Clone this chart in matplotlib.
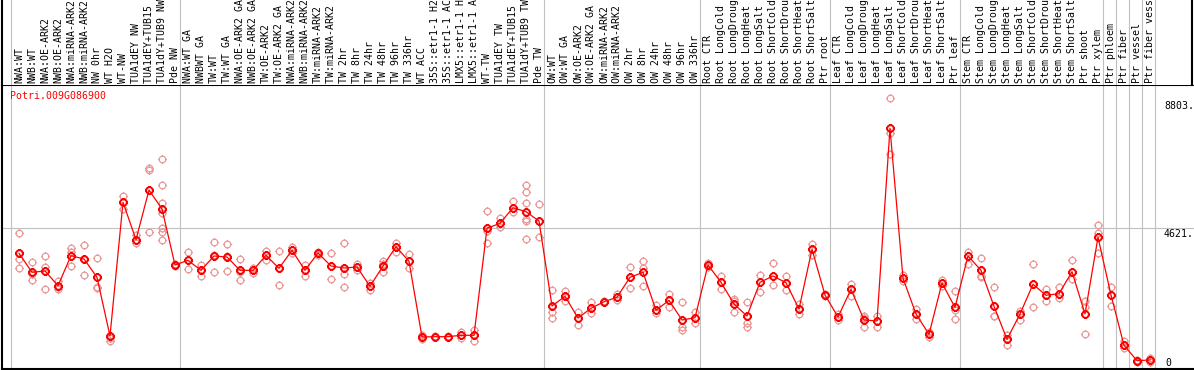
import numpy as np
import matplotlib
matplotlib.use("Agg")
import matplotlib.pyplot as plt
from matplotlib.path import Path

gene = "Potri.009G086900"

labels = [
    "NWA:WT", "NWB:WT", "NWA:OE-ARK2", "NWB:OE-ARK2", "NWA:miRNA-ARK2", "NWB:miRNA-ARK2",
    "NW 0hr", "WT H2O", "WT-NW", "TUA1dEY NW", "TUA1dEY+TUB15 NW", "TUA1dY+TUB9 NW", "Pde NW",
    "NWA:WT GA", "NWBWT GA", "TW:WT", "TW:WT GA", "NWA:OE-ARK2 GA", "NWB:OE-ARK2 GA",
    "TW:OE-ARK2", "TW:OE-ARK2 GA", "NWA:miRNA-ARK2 GA", "NWB:miRNA-ARK2 GA", "TW:miRNA-ARK2",
    "TW:miRNA-ARK2 GA", "TW 2hr", "TW 8hr", "TW 24hr", "TW 48hr", "TW 96hr", "TW 336hr",
    "WT ACC", "35S::etr1-1 H2O", "35S::etr1-1 ACC", "LMX5::etr1-1 H2O", "LMX5::etr1-1 ACC",
    "WT-TW", "TUA1dEY TW", "TUA1dEY+TUB15 TW", "TUA1dY+TUB9 TW", "Pde TW",
    "OW:WT", "OW:WT GA", "OW:OE-ARK2", "OW:OE-ARK2 GA", "OW:miRNA-ARK2", "OW:miRNA-ARK2 GA",
    "OW 2hr", "OW 8hr", "OW 24hr", "OW 48hr", "OW 96hr", "OW 336hr",
    "Root CTR", "Root LongCold", "Root LongDrought", "Root LongHeat", "Root LongSalt",
    "Root ShortCold", "Root ShortDrought", "Root ShortHeat", "Root ShortSalt", "Ptr root",
    "Leaf CTR", "Leaf LongCold", "Leaf LongDrought", "Leaf LongHeat", "Leaf LongSalt",
    "Leaf ShortCold", "Leaf ShortDrought", "Leaf ShortHeat", "Leaf ShortSalt", "Ptr leaf",
    "Stem CTR", "Stem LongCold", "Stem LongDrought", "Stem LongHeat", "Stem LongSalt",
    "Stem ShortCold", "Stem ShortDrought", "Stem ShortHeat", "Stem ShortSalt", "Ptr shoot",
    "Ptr xylem", "Ptr phloem", "Ptr fiber", "Ptr vessel", "Ptr fiber vessel",
]

group_sizes = [13, 28, 12, 10, 10, 11, 1, 1, 1, 1]

means = [
    3743, 3092, 3137, 2633, 3662, 3548, 2920, 908, 5491, 4210, 5913, 5262, 3342,
    3503, 3160, 3651, 3617, 3160, 3160, 3675, 3229, 3846, 3160, 3754, 3308, 3239, 3274,
    2612, 3308, 3970, 3469, 874, 885, 885, 932, 932, 4600, 4771, 5307, 5170, 4851,
    1937, 2269, 1525, 1858, 2084, 2235, 2920, 3092, 1789, 2132, 1457, 1536,
    3342, 2749, 2005, 1594, 2749, 2965, 2736, 1834, 3880, 2314,
    1560, 2509, 1457, 1423, 8028, 2886, 1663, 966, 2725, 1892,
    3651, 3160, 1927, 795, 1663, 2681, 2304, 2359, 3113, 1663, 4292,
    2314, 590, 62, 86,
]

reps = [
    [4429, 3538, 3229], [3435, 3050, 2818], [3651, 3284, 2509], [2804, 2600, 2509],
    [3935, 3798, 3308], [4028, 3560, 2989], [3582, 2578, 2544], [908, 840, 747],
    [5708, 5500, 5262], [4360, 4200, 4086], [6657, 6599, 4463],
    [6976, 6074, 5478, 5115, 4611, 4484, 4199], [3380, 3300],
    [3778, 3195], [3353, 2976], [4120, 3700, 3102], [4052, 3650, 3137], [3548, 3100, 2818],
    [3250, 3078], [3812, 3503], [3812, 2646], [3970, 3743], [3353, 2976], [3800, 3700],
    [3754, 2852], [4096, 3044, 2588], [3380, 3171], [2736, 2485], [3469, 3360, 3092],
    [4107, 3798], [3719, 3239], [950, 795], [900, 870], [900, 870], [1030, 830],
    [1114, 935, 747], [5183, 4500, 4107], [4953, 4635], [5536, 5149],
    [6085, 5855, 5478, 4909, 4851, 4223], [5423, 4302],
    [2475, 1741, 1536], [2451, 2118], [1741, 1275], [2074, 1697], [2108, 2060],
    [2359, 2132], [3274, 2544], [3469, 3229, 2622], [1971, 1687], [2338, 1892],
    [2074, 1227, 1114], [1741, 1344],
    [3400, 3290], [2976, 2530], [2167, 2100, 1741], [2064, 1364, 1227], [2989, 2417],
    [3411, 2657], [2976, 2485], [2005, 1663], [4062, 3880, 3700], [2348, 2280],
    [1660, 1457], [2691, 2280], [1604, 1540, 1227], [1604, 1227], [9057, 7857, 7137],
    [2999, 2804], [1820, 1501], [1035, 884], [2828, 2620], [2441, 1789, 1481],
    [3798, 3377], [3572, 2970, 2941], [2578, 1610, 1594], [943, 600], [1765, 1457],
    [3366, 1892], [2520, 2118], [2588, 2221], [3503, 2862], [2118, 1904, 967],
    [4714, 4450, 3743],
    [2588, 1937], [747, 487], [100, 20], [140, 30],
]

ytick_vals = [0, 4621, 8803]
ytick_text = ["0", "4621.", "8803."]

# circle marker with little ticks, like the original renderer
t = np.linspace(0, 2 * np.pi, 33)
verts = list(zip(np.cos(t), np.sin(t)))
codes = [Path.MOVETO] + [Path.LINETO] * (len(verts) - 1)
for dx, dy in [(1, 0), (-1, 0), (0, 1), (0, -1)]:
    verts += [(dx, dy), (dx * 1.3, dy * 1.3)]
    codes += [Path.MOVETO, Path.LINETO]
tick_circle = Path(verts, codes)

plt.rcParams['font.family'] = ['DejaVu Sans Mono']
W, H = 1194, 370
fig = plt.figure(figsize=(W / 100, H / 100), dpi=100)

x = np.arange(len(labels))
xlim = ((1.5 - 19) / 13, (W - 19) / 13)
ylim = (-6 * 34.28, 277.5 * 34.28)

ax = fig.add_axes([1.5 / W, 1.5 / H, 1 - 1.5 / W, 283.5 / H])
axh = fig.add_axes([1.5 / W, 285 / H, 1 - 1.5 / W, 85 / H])

for a in (ax, axh):
    a.set_xlim(*xlim)
    a.set_xticks([])
    a.set_yticks([])
    for s in a.spines.values():
        s.set_linewidth(1.5)
        s.set_color('black')
ax.set_ylim(*ylim)
ax.spines['right'].set_visible(False)
axh.spines['right'].set_visible(False)
axh.spines['top'].set_visible(False)
axh.spines['bottom'].set_visible(False)
axh.set_ylim(0, 1)

# group separators
bounds = np.concatenate([[0], np.cumsum(group_sizes)])
for b in bounds:
    for a in (ax, axh):
        a.axvline(b - 8 / 13, color='#c0c0c0', lw=0.8, zorder=0)
axh.axvline((1192 - 19) / 13, color='black', lw=1.5)
ax.axhline(ytick_vals[1], color='#c0c0c0', lw=0.8, zorder=0)

# replicates
for i, r in enumerate(reps):
    ax.plot([i] * len(r), r, ls='none', marker=tick_circle, ms=6.2,
            mfc='none', mec='#eb9a9a', mew=0.9, zorder=2)

# means
ax.plot(x, means, color='red', lw=0.9, marker=tick_circle, ms=6.2,
        mfc='none', mec='red', mew=1.4, zorder=3)

for lab, i in zip(labels, x):
    axh.text(i, 2 / 85, lab, rotation=90, ha='center', va='bottom',
             fontsize=7.1, color='black', transform=axh.get_xaxis_transform())

ax.text((10 - 1.5) / (W - 1.5), 1 - 6 / 283.5, gene, color='red', fontsize=7.1,
        ha='left', va='top', transform=ax.transAxes)

xr = (1164 - 19) / 13
ax.text(xr, ytick_vals[2], ytick_text[2], fontsize=7.1, ha='left', va='center')
ax.text(xr, ytick_vals[1] - 40, ytick_text[1], fontsize=7.1, ha='left', va='top')
ax.text(xr + 0.1, ytick_vals[0], ytick_text[0], fontsize=7.1, ha='left', va='center')

fig.savefig('out.png', dpi=100)
